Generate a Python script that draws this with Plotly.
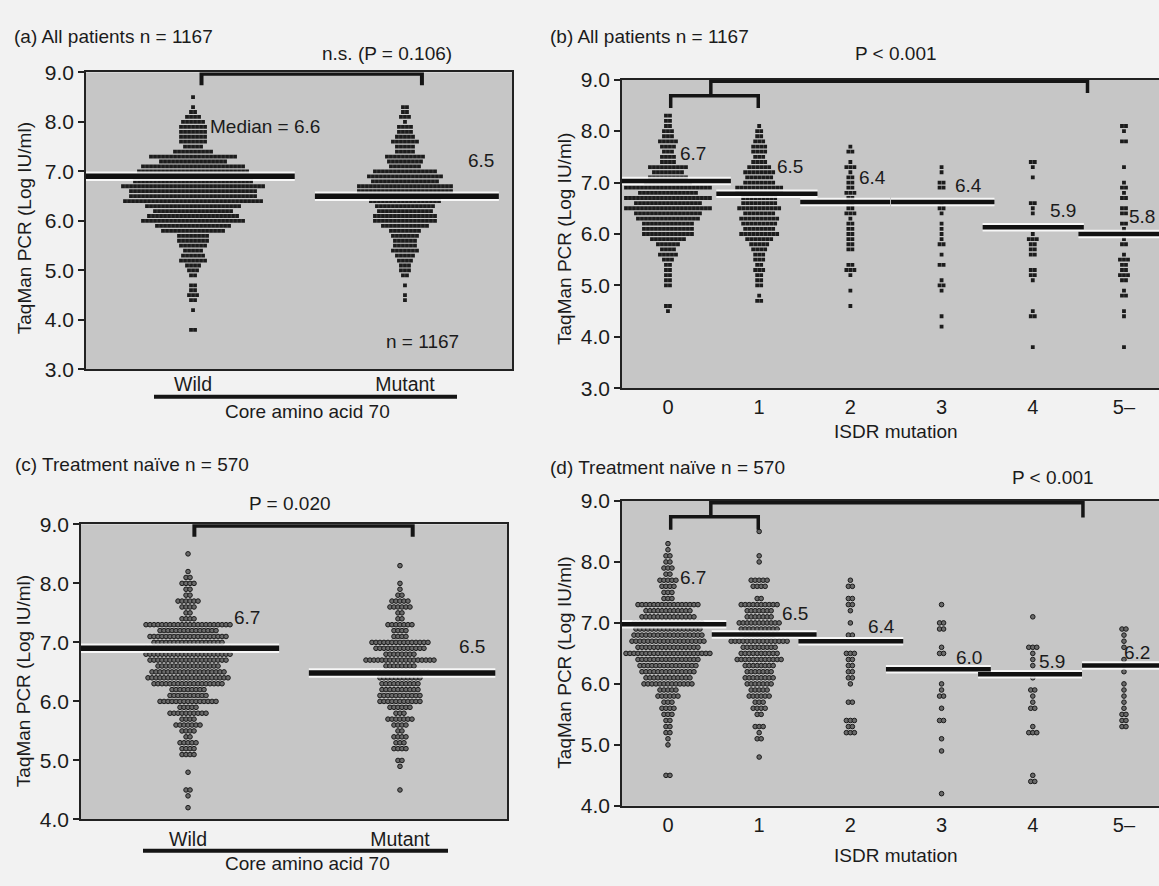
import numpy as np
import plotly.graph_objects as go

W, H = 1159, 886

# ---------------- data ----------------
core_categories = ["Wild", "Mutant"]
isdr_categories = ["0", "1", "2", "3", "4", "5\u2013"]

# (level in Log IU/ml, number of patients at that level)
a_wild = [(8.5, 1), (8.3, 1), (8.2, 2), (8.1, 4), (8.0, 6), (7.9, 7), (7.8, 7), (7.7, 7), (7.6, 7),
          (7.5, 5), (7.4, 10), (7.3, 22), (7.2, 17), (7.1, 26), (7.0, 28), (6.9, 30), (6.8, 30),
          (6.7, 36), (6.6, 32), (6.5, 32), (6.4, 35), (6.3, 24), (6.2, 20), (6.1, 23), (6.0, 26),
          (5.9, 19), (5.8, 16), (5.7, 8), (5.6, 8), (5.5, 7), (5.4, 5), (5.3, 6), (5.2, 7), (5.1, 4),
          (5.0, 3), (4.9, 2), (4.7, 2), (4.6, 2), (4.5, 3), (4.4, 2), (4.2, 1), (3.8, 2)]
a_mutant = [(8.3, 2), (8.2, 2), (8.1, 3), (8.0, 1), (7.9, 4), (7.8, 4), (7.7, 5), (7.6, 7), (7.5, 5),
            (7.4, 5), (7.3, 10), (7.2, 9), (7.1, 8), (7.0, 16), (6.9, 19), (6.8, 17), (6.7, 24),
            (6.6, 24), (6.5, 25), (6.4, 18), (6.3, 15), (6.2, 14), (6.1, 16), (6.0, 16), (5.9, 12),
            (5.8, 8), (5.7, 7), (5.6, 6), (5.5, 6), (5.4, 7), (5.3, 5), (5.2, 4), (5.1, 3), (5.0, 3),
            (4.9, 2), (4.7, 1), (4.5, 1), (4.4, 1)]

b_isdr0 = [(8.3, 2), (8.2, 2), (8.1, 2), (8.0, 3), (7.9, 3), (7.8, 5), (7.7, 4), (7.6, 3), (7.5, 4),
           (7.4, 4), (7.3, 10), (7.2, 8), (7.1, 10), (7.0, 12), (6.9, 22), (6.8, 15), (6.7, 22),
           (6.6, 17), (6.5, 22), (6.4, 17), (6.3, 16), (6.2, 13), (6.1, 13), (6.0, 13), (5.9, 9),
           (5.8, 6), (5.7, 4), (5.6, 5), (5.5, 3), (5.4, 2), (5.3, 2), (5.2, 2), (5.1, 2), (5.0, 2),
           (4.6, 2), (4.5, 1)]
b_isdr1 = [(8.1, 1), (8.0, 2), (7.9, 2), (7.8, 3), (7.7, 4), (7.6, 4), (7.5, 3), (7.4, 4), (7.3, 6),
           (7.2, 8), (7.1, 7), (7.0, 8), (6.9, 12), (6.8, 12), (6.7, 9), (6.6, 9), (6.5, 11), (6.4, 8),
           (6.3, 10), (6.2, 9), (6.1, 8), (6.0, 10), (5.9, 7), (5.8, 5), (5.7, 4), (5.6, 3), (5.5, 3),
           (5.4, 2), (5.3, 3), (5.2, 2), (5.1, 2), (5.0, 2), (4.8, 1), (4.7, 2)]
b_isdr2 = [(7.7, 1), (7.6, 2), (7.4, 1), (7.3, 3), (7.2, 1), (7.1, 2), (7.0, 2), (6.9, 2), (6.8, 3),
           (6.7, 2), (6.6, 2), (6.5, 2), (6.4, 3), (6.3, 1), (6.2, 2), (6.1, 2), (6.0, 2), (5.9, 2),
           (5.8, 2), (5.7, 2), (5.4, 2), (5.3, 3), (5.2, 1), (4.9, 1), (4.6, 1)]
b_isdr3 = [(7.3, 1), (7.2, 1), (7.0, 2), (6.9, 2), (6.6, 1), (6.5, 2), (6.4, 1), (6.2, 1), (6.1, 1),
           (6.0, 1), (5.9, 1), (5.8, 2), (5.6, 1), (5.4, 2), (5.1, 1), (5.0, 2), (4.9, 1), (4.4, 1),
           (4.2, 1)]
b_isdr4 = [(7.4, 2), (7.3, 1), (7.1, 1), (6.6, 2), (6.5, 1), (6.4, 1), (6.0, 1), (5.9, 3), (5.8, 2),
           (5.7, 2), (5.6, 2), (5.3, 2), (5.2, 2), (5.1, 1), (4.5, 1), (4.4, 2), (3.8, 1)]
b_isdr5 = [(8.1, 2), (8.0, 1), (7.8, 2), (7.3, 1), (7.0, 1), (6.9, 2), (6.8, 1), (6.7, 2), (6.5, 2),
           (6.4, 2), (6.2, 2), (6.1, 1), (5.9, 1), (5.8, 2), (5.6, 1), (5.5, 3), (5.4, 2), (5.3, 2),
           (5.2, 3), (5.1, 2), (4.9, 1), (4.8, 2), (4.5, 1), (4.4, 1), (3.8, 1)]

c_wild = [(8.5, 1), (8.2, 1), (8.1, 2), (8.0, 4), (7.9, 2), (7.8, 2), (7.7, 6), (7.6, 4), (7.5, 2),
          (7.4, 4), (7.3, 22), (7.2, 15), (7.1, 20), (7.0, 18), (6.9, 22), (6.8, 22), (6.7, 20),
          (6.6, 16), (6.5, 19), (6.4, 21), (6.3, 18), (6.2, 9), (6.1, 10), (6.0, 15), (5.9, 5),
          (5.8, 10), (5.7, 4), (5.6, 7), (5.5, 4), (5.4, 2), (5.3, 5), (5.2, 4), (5.1, 4), (4.8, 1),
          (4.5, 2), (4.4, 1), (4.2, 1)]
c_mutant = [(8.3, 1), (8.0, 1), (7.9, 1), (7.8, 2), (7.7, 5), (7.6, 6), (7.5, 2), (7.4, 2), (7.3, 7),
            (7.2, 4), (7.1, 4), (7.0, 15), (6.9, 13), (6.8, 8), (6.7, 18), (6.6, 8), (6.5, 15),
            (6.4, 11), (6.3, 10), (6.2, 10), (6.1, 11), (6.0, 11), (5.9, 6), (5.8, 3), (5.7, 7),
            (5.6, 4), (5.5, 2), (5.4, 4), (5.3, 3), (5.2, 4), (5.0, 2), (4.9, 1), (4.5, 1)]

d_isdr0 = [(8.3, 1), (8.2, 1), (8.1, 2), (8.0, 2), (7.9, 3), (7.8, 2), (7.7, 5), (7.6, 4), (7.5, 3),
           (7.4, 3), (7.3, 16), (7.2, 12), (7.1, 14), (7.0, 18), (6.9, 17), (6.8, 18), (6.7, 19),
           (6.6, 16), (6.5, 22), (6.4, 16), (6.3, 15), (6.2, 14), (6.1, 12), (6.0, 13), (5.9, 5),
           (5.8, 6), (5.7, 3), (5.6, 4), (5.5, 3), (5.4, 2), (5.3, 2), (5.2, 2), (5.1, 1), (5.0, 1),
           (4.5, 2)]
d_isdr1 = [(8.5, 1), (8.1, 1), (8.0, 1), (7.7, 5), (7.6, 4), (7.4, 2), (7.3, 10), (7.2, 7), (7.1, 7),
           (7.0, 11), (6.9, 10), (6.8, 8), (6.7, 15), (6.6, 9), (6.5, 10), (6.4, 12), (6.3, 8),
           (6.2, 7), (6.1, 8), (6.0, 7), (5.9, 5), (5.8, 6), (5.7, 3), (5.6, 4), (5.5, 2), (5.3, 3),
           (5.2, 1), (5.1, 2), (4.8, 1)]
d_isdr2 = [(7.7, 1), (7.6, 2), (7.4, 2), (7.3, 2), (7.2, 1), (7.0, 1), (6.8, 2), (6.5, 3), (6.4, 2),
           (6.3, 2), (6.2, 2), (6.1, 2), (6.0, 1), (5.7, 2), (5.4, 3), (5.3, 2), (5.2, 3)]
d_isdr3 = [(7.3, 1), (7.0, 2), (6.9, 2), (6.6, 1), (6.5, 2), (6.0, 1), (5.9, 1), (5.8, 2), (5.6, 1),
           (5.4, 2), (5.1, 1), (4.9, 1), (4.2, 1)]
d_isdr4 = [(7.1, 1), (6.6, 3), (6.5, 1), (6.4, 1), (6.3, 1), (6.1, 1), (5.9, 2), (5.8, 1), (5.7, 1),
           (5.6, 2), (5.3, 1), (5.2, 3), (4.5, 1), (4.4, 2)]
d_isdr5 = [(6.9, 2), (6.8, 1), (6.7, 1), (6.6, 1), (6.4, 1), (6.3, 1), (6.2, 1), (6.0, 1), (5.9, 1),
           (5.8, 1), (5.7, 1), (5.6, 1), (5.5, 2), (5.4, 2), (5.3, 2)]

# median bars as drawn, and their labels
a_median_levels = [6.9, 6.5]
a_median_labels = ["Median = 6.6", "6.5"]
b_median_levels = [7.03, 6.78, 6.62, 6.62, 6.13, 6.0]
b_median_labels = ["6.7", "6.5", "6.4", "6.4", "5.9", "5.8"]
c_median_levels = [6.9, 6.48]
c_median_labels = ["6.7", "6.5"]
d_median_levels = [6.98, 6.81, 6.7, 6.24, 6.16, 6.3]
d_median_labels = ["6.7", "6.5", "6.4", "6.0", "5.9", "6.2"]

titles = ["(a) All patients n = 1167", "(b) All patients n = 1167",
          "(c) Treatment na\u00efve n = 570", "(d) Treatment na\u00efve n = 570"]
p_texts = ["n.s. (P = 0.106)", "P < 0.001", "P = 0.020", "P < 0.001"]
y_title = "TaqMan PCR (Log IU/ml)"
core_title = "Core amino acid 70"
isdr_title = "ISDR mutation"
n_note = "n = 1167"

# ---------------- layout constants ----------------
FONT = "Liberation Sans, Arial, Helvetica, sans-serif"
TXT = "#1b1b1b"
FS = 19

def px(x):
    return x / W

def py(y):
    return 1 - y / H

panels = {
    "A": dict(xd=(86, 512), yd=(62, 367), xr=[-0.505, 1.505], yr=[3, 9], box=True, xfs=19.5, stand=-4),
    "B": dict(xd=(622, 1159), yd=(69.5, 386.3), xr=[-0.504, 5.384], yr=[3, 9], box=False, xfs=20, stand=0),
    "C": dict(xd=(81, 507), yd=(526, 829), xr=[-0.505, 1.505], yr=[4, 9], box=True, xfs=19.5, stand=1),
    "D": dict(xd=(622, 1159), yd=(502, 815), xr=[-0.504, 5.384], yr=[4, 9], box=False, xfs=20, stand=0),
}
axis_ids = {"A": ("x", "y"), "B": ("x2", "y2"), "C": ("x3", "y3"), "D": ("x4", "y4")}

fig = go.Figure()

def add_dots(rows, center, pitch, key, size, solid):
    xs, ys = [], []
    for level, n in rows:
        off = (np.arange(n) - (n - 1) / 2.0) * pitch
        xs.extend((center + off).tolist())
        ys.extend([level] * n)
    xa, ya = axis_ids[key]
    if solid:
        marker = dict(size=size, symbol="square", color="#1c1c1c", line=dict(width=0))
    else:
        marker = dict(size=size, color="#6a6a6a", line=dict(width=1.0, color="#1a1a1a"))
    fig.add_trace(go.Scatter(x=xs, y=ys, mode="markers", marker=marker,
                             xaxis=xa, yaxis=ya, showlegend=False, hoverinfo="y"))

pitch_core = 4.0 / 211.9
pitch_isdr = 4.0 / 91.27

for i, rows in enumerate([a_wild, a_mutant]):
    add_dots(rows, i, pitch_core, "A", 3.8, True)
for i, rows in enumerate([b_isdr0, b_isdr1, b_isdr2, b_isdr3, b_isdr4, b_isdr5]):
    add_dots(rows, i, pitch_isdr, "B", 3.8, True)
for i, rows in enumerate([c_wild, c_mutant]):
    add_dots(rows, i, pitch_core, "C", 4.6, False)
for i, rows in enumerate([d_isdr0, d_isdr1, d_isdr2, d_isdr3, d_isdr4, d_isdr5]):
    add_dots(rows, i, pitch_isdr, "D", 4.6, False)

# median bars
median_spans = {
    "A": [(-0.505, 0.48), (0.575, 1.443)],
    "B": [(-0.504, 0.69), (0.53, 1.64), (1.45, 2.435), (2.445, 3.58), (3.45, 4.56), (4.5, 5.384)],
    "C": [(-0.505, 0.43), (0.57, 1.45)],
    "D": [(-0.504, 0.64), (0.48, 1.63), (1.43, 2.58), (2.39, 3.54), (3.4, 4.54), (4.54, 5.384)],
}
median_levels = {"A": a_median_levels, "B": b_median_levels, "C": c_median_levels, "D": d_median_levels}
bar_w = {"A": 5.5, "B": 4.5, "C": 5.5, "D": 4.5}
for key in "ABCD":
    xa, ya = axis_ids[key]
    for (x0, x1), lv in zip(median_spans[key], median_levels[key]):
        fig.add_trace(go.Scatter(x=[x0, x1], y=[lv, lv], mode="lines",
                                 line=dict(color="rgba(255,255,255,0.85)", width=bar_w[key] + 4),
                                 xaxis=xa, yaxis=ya, showlegend=False, hoverinfo="skip"))
    for (x0, x1), lv in zip(median_spans[key], median_levels[key]):
        fig.add_trace(go.Scatter(x=[x0, x1], y=[lv, lv], mode="lines",
                                 line=dict(color="#111111", width=bar_w[key]),
                                 xaxis=xa, yaxis=ya, showlegend=False, hoverinfo="skip"))

# ---------------- axes ----------------
layout = dict(width=W, height=H, margin=dict(l=0, r=0, t=0, b=0),
              paper_bgcolor="#f2f2f2", plot_bgcolor="#c6c6c6",
              font=dict(family=FONT, size=FS, color=TXT), showlegend=False)

for key in "ABCD":
    p = panels[key]
    xa, ya = axis_ids[key]
    xname = "xaxis" + xa[1:]
    yname = "yaxis" + ya[1:]
    if key in "AC":
        tv, tt = [0, 1], core_categories
    else:
        tv, tt = list(range(6)), isdr_categories
    layout[xname] = dict(domain=[px(p["xd"][0]), px(p["xd"][1])], range=p["xr"], anchor=ya,
                         showgrid=False, zeroline=False, showline=True, linecolor="#222222",
                         linewidth=1.5, mirror=True, tickvals=tv, ticktext=tt, ticks="",
                         ticklabelstandoff=p["stand"],
                         tickfont=dict(size=p["xfs"], color=TXT), fixedrange=True)
    layout[yname] = dict(domain=[py(p["yd"][1]), py(p["yd"][0])], range=p["yr"], anchor=xa,
                         showgrid=False, zeroline=False, showline=True, linecolor="#222222",
                         linewidth=1.5, mirror=p["box"], dtick=1, tickformat=".1f",
                         ticks="outside", ticklen=6, tickwidth=1.5, tickcolor="#222222",
                         tickfont=dict(size=21, color=TXT), fixedrange=True)

fig.update_layout(**layout)

# ---------------- brackets ----------------
def bracket(key, pts, width):
    xa, ya = axis_ids[key]
    d = "M " + " L ".join(f"{x},{y}" for x, y in pts)
    fig.add_shape(type="path", path=d, xref=xa, yref=ya,
                  line=dict(color="#151515", width=width))

bracket("A", [(0.04, 8.74), (0.04, 8.975), (1.08, 8.975), (1.08, 8.74)], 4)
bracket("C", [(0.03, 8.79), (0.03, 8.975), (1.06, 8.975), (1.06, 8.79)], 4)
bracket("B", [(0.47, 8.69), (0.47, 8.97), (4.6, 8.97), (4.6, 8.74)], 3.5)
bracket("B", [(0.03, 8.45), (0.03, 8.69), (0.99, 8.69), (0.99, 8.45)], 3.5)
bracket("D", [(0.47, 8.74), (0.47, 8.97), (4.55, 8.97), (4.55, 8.73)], 3.5)
bracket("D", [(0.03, 8.53), (0.03, 8.74), (0.99, 8.74), (0.99, 8.53)], 3.5)

# underline bars below the core amino acid categories
for (x0, x1, y) in [(154, 457, 395), (143, 448, 861)]:
    fig.add_shape(type="line", xref="paper", yref="paper", x0=px(x0), x1=px(x1),
                  y0=py(y), y1=py(y), line=dict(color="#151515", width=4))

# ---------------- annotations ----------------
ann = []

def paper_text(text, x, y, xanchor="center", angle=0):
    ann.append(dict(text=text, x=px(x), y=py(y), xref="paper", yref="paper", showarrow=False,
                    xanchor=xanchor, yanchor="middle", textangle=angle,
                    font=dict(family=FONT, size=FS, color=TXT)))

def data_text(key, text, x, y):
    xa, ya = axis_ids[key]
    ann.append(dict(text=text, x=x, y=y, xref=xa, yref=ya, showarrow=False,
                    xanchor="center", yanchor="middle",
                    font=dict(family=FONT, size=FS, color=TXT)))

paper_text(titles[0], 12, 25, "left")
paper_text(titles[1], 548, 25, "left")
paper_text(titles[2], 13, 465, "left")
paper_text(titles[3], 548, 468, "left")

paper_text(p_texts[0], 387, 43)
paper_text(p_texts[1], 896, 43)
paper_text(p_texts[2], 290, 505)
paper_text(p_texts[3], 1053, 478)

paper_text(y_title, 24, 222, angle=-90)
paper_text(y_title, 565, 233, angle=-90)
paper_text(y_title, 23, 687, angle=-90)
paper_text(y_title, 565, 668, angle=-90)

paper_text(core_title, 307, 410)
paper_text(core_title, 307, 874)
paper_text(isdr_title, 896, 431)
paper_text(isdr_title, 896, 866)

label_pos = {
    "A": [(0.34, 7.9), (1.36, 7.23)],
    "B": [(0.27, 7.57), (1.34, 7.32), (2.24, 7.1), (3.29, 6.94), (4.33, 6.45), (5.2, 6.34)],
    "C": [(0.28, 7.42), (1.34, 6.93)],
    "D": [(0.27, 7.75), (1.39, 7.16), (2.34, 6.94), (3.3, 6.44), (4.21, 6.36), (5.14, 6.51)],
}
label_text = {"A": a_median_labels, "B": b_median_labels, "C": c_median_labels, "D": d_median_labels}
for key in "ABCD":
    for (x, y), t in zip(label_pos[key], label_text[key]):
        data_text(key, t, x, y)
data_text("A", n_note, 1.085, 3.57)

fig.update_layout(annotations=ann)

fig.write_html("out.html")
